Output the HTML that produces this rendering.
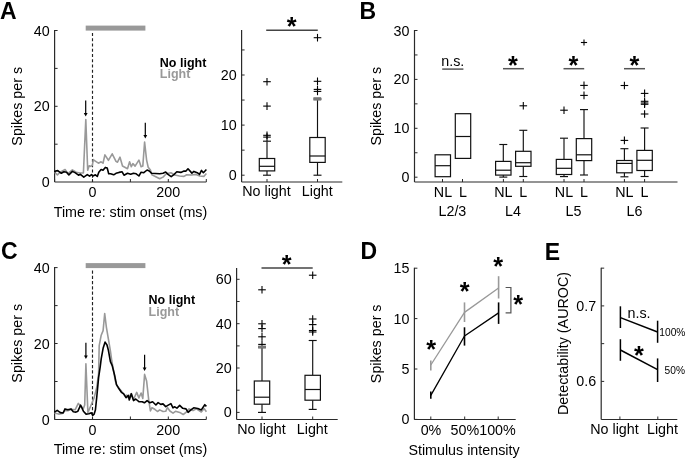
<!DOCTYPE html>
<html><head><meta charset="utf-8"><style>
html,body{margin:0;padding:0;background:#fff;}
svg{display:block;will-change:transform;font-family:"Liberation Sans", sans-serif;}
</style></head><body>
<svg width="685" height="458" viewBox="0 0 685 458">
<rect width="685" height="458" fill="#fff"/>
<text x="0" y="18.6" font-size="23" text-anchor="start" font-weight="bold" fill="#000">A</text>
<line x1="54.6" y1="29.9" x2="54.6" y2="182" stroke="#2a2a2a" stroke-width="1.2" />
<line x1="54.6" y1="30.5" x2="57.6" y2="30.5" stroke="#2a2a2a" stroke-width="1" />
<line x1="54.6" y1="68.4" x2="57.6" y2="68.4" stroke="#2a2a2a" stroke-width="1" />
<line x1="54.6" y1="106.3" x2="57.6" y2="106.3" stroke="#2a2a2a" stroke-width="1" />
<line x1="54.6" y1="144.2" x2="57.6" y2="144.2" stroke="#2a2a2a" stroke-width="1" />
<text x="49.6" y="35.5" font-size="14.3" text-anchor="end" font-weight="normal" fill="#000">40</text>
<text x="49.6" y="111.3" font-size="14.3" text-anchor="end" font-weight="normal" fill="#000">20</text>
<text x="49.6" y="187" font-size="14.3" text-anchor="end" font-weight="normal" fill="#000">0</text>
<line x1="54.6" y1="182" x2="206.3" y2="182" stroke="#2a2a2a" stroke-width="1.2" />
<line x1="54.6" y1="182" x2="54.6" y2="179" stroke="#2a2a2a" stroke-width="1" />
<line x1="92.5" y1="182" x2="92.5" y2="179" stroke="#2a2a2a" stroke-width="1" />
<line x1="130.4" y1="182" x2="130.4" y2="179" stroke="#2a2a2a" stroke-width="1" />
<line x1="168.3" y1="182" x2="168.3" y2="179" stroke="#2a2a2a" stroke-width="1" />
<line x1="206.3" y1="182" x2="206.3" y2="179" stroke="#2a2a2a" stroke-width="1" />
<text x="92.5" y="197" font-size="14.3" text-anchor="middle" font-weight="normal" fill="#000">0</text>
<text x="168.3" y="197" font-size="14.3" text-anchor="middle" font-weight="normal" fill="#000">200</text>
<text x="130.5" y="217" font-size="14.3" text-anchor="middle" font-weight="normal" fill="#000">Time re: stim onset (ms)</text>
<text x="22" y="106.3" font-size="14.3" text-anchor="middle" font-weight="normal" fill="#000" transform="rotate(-90 22 106.3)">Spikes per s</text>
<rect x="85.7" y="25.6" width="59.7" height="5" fill="#999"/>
<line x1="92.5" y1="32.9" x2="92.5" y2="182" stroke="#222" stroke-width="1.15" stroke-dasharray="3.1,2.15"/>
<text x="159.8" y="66.6" font-size="12.5" text-anchor="start" font-weight="bold" fill="#000">No light</text>
<text x="159.8" y="77.7" font-size="12.5" text-anchor="start" font-weight="bold" fill="#999">Light</text>
<polyline points="54.5,172.2 57.4,174.9 60.1,172.2 65.1,169.5 67.8,173.7 72.4,169.9 76.2,172.2 80,173 83.4,173 85.8,119.6 87.7,170.3 89.2,165.7 90.7,166.4 92.3,165.3 93.4,159.5 94.6,160.7 98.4,163.2 101.1,161.8 103,163.2 104.9,154.9 108.4,160.3 112.2,153.8 116,161.4 117.5,162.2 120,157.2 122.5,166 127.5,168.7 129.6,161.8 131.3,166.7 132.9,163.6 135.1,166.1 138.9,160.1 141.1,166.7 142.8,166.1 144.6,142.1 146.6,160.1 148.2,167.2 150.4,170 152,174.9 155.3,176.5 159.7,178.7 163,177.1 166.3,173.8 170.9,172.7 174.9,175 179.5,176 184,176.4 186.7,174.7 191.3,175 195.9,174.4 199.8,176 203.8,176.4 206.4,173.4" fill="none" stroke="#999" stroke-width="1.6" stroke-linejoin="round"/>
<polyline points="54.5,172.2 55.5,171 57.8,170.6 61.3,173.3 63.9,171.8 66.6,172.2 68.9,174.9 72.4,171.4 75.4,172.9 78.5,175.2 80.4,174.3 83.8,177.1 87.3,174.6 89.6,176.2 91.5,174.6 93,176 95.4,174.8 97.3,176.4 98.8,172.2 101.1,169.5 103,170.2 105.3,167.4 107.2,168 108.7,173.7 110.6,173.7 113.7,174.8 116,173.3 119,172.4 122.1,171.8 124,175.2 127.5,173.3 130.7,174.3 133.5,173.3 136.2,173.8 138.9,176 141.1,172.2 143.8,172.7 147.1,170 149.3,171 151.5,173.3 155.3,173.5 159.7,173.8 163,173.3 165.7,172 168,174.4 171.2,176.7 174.2,174.4 176.8,171.8 180.8,172.4 184,171.1 186,171.1 188,168.8 191.9,173.1 193.9,171.4 197.2,172.7 199.5,174.4 201.5,170.4 203.4,172.7 206.4,169.5" fill="none" stroke="#000" stroke-width="1.6" stroke-linejoin="round"/>
<line x1="85.7" y1="100.5" x2="85.7" y2="113.5" stroke="#000" stroke-width="1.2" />
<path d="M83.8,112.9 L87.60000000000001,112.9 L85.7,116.5 Z" fill="#000"/>
<line x1="145.3" y1="122.7" x2="145.3" y2="135.5" stroke="#000" stroke-width="1.2" />
<path d="M143.4,134.9 L147.20000000000002,134.9 L145.3,138.5 Z" fill="#000"/>
<line x1="241.6" y1="30" x2="241.6" y2="182" stroke="#2a2a2a" stroke-width="1.2" />
<line x1="241.6" y1="175.2" x2="244.6" y2="175.2" stroke="#2a2a2a" stroke-width="1" />
<line x1="241.6" y1="150.15" x2="244.6" y2="150.15" stroke="#2a2a2a" stroke-width="1" />
<line x1="241.6" y1="125.1" x2="244.6" y2="125.1" stroke="#2a2a2a" stroke-width="1" />
<line x1="241.6" y1="100.05" x2="244.6" y2="100.05" stroke="#2a2a2a" stroke-width="1" />
<line x1="241.6" y1="75" x2="244.6" y2="75" stroke="#2a2a2a" stroke-width="1" />
<line x1="241.6" y1="49.95" x2="244.6" y2="49.95" stroke="#2a2a2a" stroke-width="1" />
<text x="236.6" y="180.2" font-size="14.3" text-anchor="end" font-weight="normal" fill="#000">0</text>
<text x="236.6" y="130.1" font-size="14.3" text-anchor="end" font-weight="normal" fill="#000">10</text>
<text x="236.6" y="80" font-size="14.3" text-anchor="end" font-weight="normal" fill="#000">20</text>
<line x1="241.6" y1="182" x2="342.3" y2="182" stroke="#2a2a2a" stroke-width="1.2" />
<line x1="267" y1="182" x2="267" y2="179" stroke="#2a2a2a" stroke-width="1" />
<line x1="317.5" y1="182" x2="317.5" y2="179" stroke="#2a2a2a" stroke-width="1" />
<text x="266.5" y="196.4" font-size="14.3" text-anchor="middle" font-weight="normal" fill="#000">No light</text>
<text x="317.3" y="196.4" font-size="14.3" text-anchor="middle" font-weight="normal" fill="#000">Light</text>
<line x1="267" y1="158.5" x2="267" y2="141.2" stroke="#111" stroke-width="1.15" />
<line x1="267" y1="170.9" x2="267" y2="175.2" stroke="#111" stroke-width="1.15" />
<line x1="263.0" y1="141.2" x2="271.0" y2="141.2" stroke="#111" stroke-width="1.15" />
<line x1="263.0" y1="175.2" x2="271.0" y2="175.2" stroke="#111" stroke-width="1.15" />
<rect x="259.3" y="158.5" width="15.4" height="12.400000000000006" fill="#fff" stroke="#111" stroke-width="1.2"/>
<line x1="259.3" y1="166.3" x2="274.7" y2="166.3" stroke="#111" stroke-width="1.2" />
<line x1="263.2" y1="81.7" x2="270.8" y2="81.7" stroke="#000" stroke-width="1.1" />
<line x1="267" y1="77.9" x2="267" y2="85.5" stroke="#000" stroke-width="1.1" />
<line x1="263.2" y1="106.1" x2="270.8" y2="106.1" stroke="#000" stroke-width="1.1" />
<line x1="267" y1="102.3" x2="267" y2="109.89999999999999" stroke="#000" stroke-width="1.1" />
<line x1="263.2" y1="135.3" x2="270.8" y2="135.3" stroke="#000" stroke-width="1.1" />
<line x1="267" y1="131.5" x2="267" y2="139.10000000000002" stroke="#000" stroke-width="1.1" />
<line x1="263.2" y1="137.1" x2="270.8" y2="137.1" stroke="#000" stroke-width="1.1" />
<line x1="267" y1="133.29999999999998" x2="267" y2="140.9" stroke="#000" stroke-width="1.1" />
<line x1="317.5" y1="137.5" x2="317.5" y2="99" stroke="#111" stroke-width="1.15" />
<line x1="317.5" y1="162.4" x2="317.5" y2="175.2" stroke="#111" stroke-width="1.15" />
<line x1="313.5" y1="99" x2="321.5" y2="99" stroke="#111" stroke-width="1.15" />
<line x1="313.5" y1="175.2" x2="321.5" y2="175.2" stroke="#111" stroke-width="1.15" />
<rect x="309.8" y="137.5" width="15.4" height="24.900000000000006" fill="#fff" stroke="#111" stroke-width="1.2"/>
<line x1="309.8" y1="156" x2="325.2" y2="156" stroke="#111" stroke-width="1.2" />
<line x1="313.7" y1="37.7" x2="321.3" y2="37.7" stroke="#000" stroke-width="1.1" />
<line x1="317.5" y1="33.900000000000006" x2="317.5" y2="41.5" stroke="#000" stroke-width="1.1" />
<line x1="313.7" y1="81.3" x2="321.3" y2="81.3" stroke="#000" stroke-width="1.1" />
<line x1="317.5" y1="77.5" x2="317.5" y2="85.1" stroke="#000" stroke-width="1.1" />
<line x1="313.7" y1="89.4" x2="321.3" y2="89.4" stroke="#000" stroke-width="1.1" />
<line x1="317.5" y1="85.60000000000001" x2="317.5" y2="93.2" stroke="#000" stroke-width="1.1" />
<line x1="313.7" y1="91.4" x2="321.3" y2="91.4" stroke="#000" stroke-width="1.1" />
<line x1="317.5" y1="87.60000000000001" x2="317.5" y2="95.2" stroke="#000" stroke-width="1.1" />
<rect x="313.4" y="97.2" width="7.8" height="3.4" fill="#777"/>
<line x1="266.2" y1="30.3" x2="317.8" y2="30.3" stroke="#444" stroke-width="1.4" />
<text x="291.75" y="35.2" font-size="25.3" text-anchor="middle" font-weight="bold" fill="#000">*</text>
<text x="359.6" y="19.4" font-size="23" text-anchor="start" font-weight="bold" fill="#000">B</text>
<line x1="414.5" y1="30" x2="414.5" y2="182" stroke="#2a2a2a" stroke-width="1.2" />
<line x1="414.5" y1="177.2" x2="417.5" y2="177.2" stroke="#2a2a2a" stroke-width="1" />
<line x1="414.5" y1="152.75" x2="417.5" y2="152.75" stroke="#2a2a2a" stroke-width="1" />
<line x1="414.5" y1="128.3" x2="417.5" y2="128.3" stroke="#2a2a2a" stroke-width="1" />
<line x1="414.5" y1="103.85" x2="417.5" y2="103.85" stroke="#2a2a2a" stroke-width="1" />
<line x1="414.5" y1="79.4" x2="417.5" y2="79.4" stroke="#2a2a2a" stroke-width="1" />
<line x1="414.5" y1="54.95" x2="417.5" y2="54.95" stroke="#2a2a2a" stroke-width="1" />
<line x1="414.5" y1="30.5" x2="417.5" y2="30.5" stroke="#2a2a2a" stroke-width="1" />
<text x="409.5" y="182.2" font-size="14.3" text-anchor="end" font-weight="normal" fill="#000">0</text>
<text x="409.5" y="133.3" font-size="14.3" text-anchor="end" font-weight="normal" fill="#000">10</text>
<text x="409.5" y="84.4" font-size="14.3" text-anchor="end" font-weight="normal" fill="#000">20</text>
<text x="409.5" y="35.5" font-size="14.3" text-anchor="end" font-weight="normal" fill="#000">30</text>
<line x1="414.5" y1="182" x2="677.5" y2="182" stroke="#2a2a2a" stroke-width="1.2" />
<line x1="442.5" y1="182" x2="442.5" y2="179" stroke="#2a2a2a" stroke-width="1" />
<line x1="462.5" y1="182" x2="462.5" y2="179" stroke="#2a2a2a" stroke-width="1" />
<line x1="503.4" y1="182" x2="503.4" y2="179" stroke="#2a2a2a" stroke-width="1" />
<line x1="523.3" y1="182" x2="523.3" y2="179" stroke="#2a2a2a" stroke-width="1" />
<line x1="564" y1="182" x2="564" y2="179" stroke="#2a2a2a" stroke-width="1" />
<line x1="584" y1="182" x2="584" y2="179" stroke="#2a2a2a" stroke-width="1" />
<line x1="624.4" y1="182" x2="624.4" y2="179" stroke="#2a2a2a" stroke-width="1" />
<line x1="644.6" y1="182" x2="644.6" y2="179" stroke="#2a2a2a" stroke-width="1" />
<text x="381.3" y="106.2" font-size="14.3" text-anchor="middle" font-weight="normal" fill="#000" transform="rotate(-90 381.3 106.2)">Spikes per s</text>
<text x="443" y="196.5" font-size="14.3" text-anchor="middle" font-weight="normal" fill="#000">NL</text>
<text x="463" y="196.5" font-size="14.3" text-anchor="middle" font-weight="normal" fill="#000">L</text>
<text x="503.4" y="196.5" font-size="14.3" text-anchor="middle" font-weight="normal" fill="#000">NL</text>
<text x="523.3" y="196.5" font-size="14.3" text-anchor="middle" font-weight="normal" fill="#000">L</text>
<text x="564" y="196.5" font-size="14.3" text-anchor="middle" font-weight="normal" fill="#000">NL</text>
<text x="584" y="196.5" font-size="14.3" text-anchor="middle" font-weight="normal" fill="#000">L</text>
<text x="624.4" y="196.5" font-size="14.3" text-anchor="middle" font-weight="normal" fill="#000">NL</text>
<text x="644.6" y="196.5" font-size="14.3" text-anchor="middle" font-weight="normal" fill="#000">L</text>
<text x="452.4" y="215.5" font-size="14.3" text-anchor="middle" font-weight="normal" fill="#000">L2/3</text>
<text x="513" y="215.5" font-size="14.3" text-anchor="middle" font-weight="normal" fill="#000">L4</text>
<text x="573.5" y="215.5" font-size="14.3" text-anchor="middle" font-weight="normal" fill="#000">L5</text>
<text x="634.4" y="215.5" font-size="14.3" text-anchor="middle" font-weight="normal" fill="#000">L6</text>
<rect x="435.1" y="154.8" width="15.4" height="21.9" fill="#fff" stroke="#111" stroke-width="1.2"/>
<line x1="435.1" y1="165.7" x2="450.5" y2="165.7" stroke="#111" stroke-width="1.2" />
<rect x="455.3" y="113.7" width="15.4" height="44.7" fill="#fff" stroke="#111" stroke-width="1.2"/>
<line x1="455.3" y1="136.5" x2="470.7" y2="136.5" stroke="#111" stroke-width="1.2" />
<line x1="503.3" y1="161.4" x2="503.3" y2="144.5" stroke="#111" stroke-width="1.15" />
<line x1="503.3" y1="175.1" x2="503.3" y2="177.1" stroke="#111" stroke-width="1.15" />
<line x1="499.3" y1="144.5" x2="507.3" y2="144.5" stroke="#111" stroke-width="1.15" />
<line x1="499.3" y1="177.1" x2="507.3" y2="177.1" stroke="#111" stroke-width="1.15" />
<rect x="495.6" y="161.4" width="15.4" height="13.699999999999989" fill="#fff" stroke="#111" stroke-width="1.2"/>
<line x1="495.6" y1="170.2" x2="511.0" y2="170.2" stroke="#111" stroke-width="1.2" />
<line x1="523.3" y1="151.3" x2="523.3" y2="130.3" stroke="#111" stroke-width="1.15" />
<line x1="523.3" y1="166.3" x2="523.3" y2="176.5" stroke="#111" stroke-width="1.15" />
<line x1="519.3" y1="130.3" x2="527.3" y2="130.3" stroke="#111" stroke-width="1.15" />
<line x1="519.3" y1="176.5" x2="527.3" y2="176.5" stroke="#111" stroke-width="1.15" />
<rect x="515.5999999999999" y="151.3" width="15.4" height="15.0" fill="#fff" stroke="#111" stroke-width="1.2"/>
<line x1="515.5999999999999" y1="162.7" x2="531.0" y2="162.7" stroke="#111" stroke-width="1.2" />
<line x1="519.5" y1="105.8" x2="527.0999999999999" y2="105.8" stroke="#000" stroke-width="1.1" />
<line x1="523.3" y1="102.0" x2="523.3" y2="109.6" stroke="#000" stroke-width="1.1" />
<line x1="564" y1="159.4" x2="564" y2="138.2" stroke="#111" stroke-width="1.15" />
<line x1="564" y1="174.5" x2="564" y2="176.6" stroke="#111" stroke-width="1.15" />
<line x1="560.0" y1="138.2" x2="568.0" y2="138.2" stroke="#111" stroke-width="1.15" />
<line x1="560.0" y1="176.6" x2="568.0" y2="176.6" stroke="#111" stroke-width="1.15" />
<rect x="556.3" y="159.4" width="15.4" height="15.099999999999994" fill="#fff" stroke="#111" stroke-width="1.2"/>
<line x1="556.3" y1="168.3" x2="571.7" y2="168.3" stroke="#111" stroke-width="1.2" />
<line x1="560.2" y1="110.2" x2="567.8" y2="110.2" stroke="#000" stroke-width="1.1" />
<line x1="564" y1="106.4" x2="564" y2="114.0" stroke="#000" stroke-width="1.1" />
<line x1="584" y1="138.6" x2="584" y2="109.6" stroke="#111" stroke-width="1.15" />
<line x1="584" y1="160.6" x2="584" y2="175" stroke="#111" stroke-width="1.15" />
<line x1="580.0" y1="109.6" x2="588.0" y2="109.6" stroke="#111" stroke-width="1.15" />
<line x1="580.0" y1="175" x2="588.0" y2="175" stroke="#111" stroke-width="1.15" />
<rect x="576.3" y="138.6" width="15.4" height="22.0" fill="#fff" stroke="#111" stroke-width="1.2"/>
<line x1="576.3" y1="154.8" x2="591.7" y2="154.8" stroke="#111" stroke-width="1.2" />
<line x1="580.2" y1="85.4" x2="587.8" y2="85.4" stroke="#000" stroke-width="1.1" />
<line x1="584" y1="81.60000000000001" x2="584" y2="89.2" stroke="#000" stroke-width="1.1" />
<line x1="580.2" y1="95.4" x2="587.8" y2="95.4" stroke="#000" stroke-width="1.1" />
<line x1="584" y1="91.60000000000001" x2="584" y2="99.2" stroke="#000" stroke-width="1.1" />
<line x1="580.9" y1="42.5" x2="587.1" y2="42.5" stroke="#000" stroke-width="1.1" />
<line x1="584" y1="39.4" x2="584" y2="45.6" stroke="#000" stroke-width="1.1" />
<line x1="624.4" y1="160.5" x2="624.4" y2="148.7" stroke="#111" stroke-width="1.15" />
<line x1="624.4" y1="172.8" x2="624.4" y2="176.8" stroke="#111" stroke-width="1.15" />
<line x1="620.4" y1="148.7" x2="628.4" y2="148.7" stroke="#111" stroke-width="1.15" />
<line x1="620.4" y1="176.8" x2="628.4" y2="176.8" stroke="#111" stroke-width="1.15" />
<rect x="616.6999999999999" y="160.5" width="15.4" height="12.300000000000011" fill="#fff" stroke="#111" stroke-width="1.2"/>
<line x1="616.6999999999999" y1="163.4" x2="632.1" y2="163.4" stroke="#111" stroke-width="1.2" />
<line x1="620.6" y1="140.4" x2="628.1999999999999" y2="140.4" stroke="#000" stroke-width="1.1" />
<line x1="624.4" y1="136.6" x2="624.4" y2="144.20000000000002" stroke="#000" stroke-width="1.1" />
<line x1="620.6" y1="85.5" x2="628.1999999999999" y2="85.5" stroke="#000" stroke-width="1.1" />
<line x1="624.4" y1="81.7" x2="624.4" y2="89.3" stroke="#000" stroke-width="1.1" />
<line x1="644.6" y1="150.4" x2="644.6" y2="128" stroke="#111" stroke-width="1.15" />
<line x1="644.6" y1="170.5" x2="644.6" y2="176.5" stroke="#111" stroke-width="1.15" />
<line x1="640.6" y1="128" x2="648.6" y2="128" stroke="#111" stroke-width="1.15" />
<line x1="640.6" y1="176.5" x2="648.6" y2="176.5" stroke="#111" stroke-width="1.15" />
<rect x="636.9" y="150.4" width="15.4" height="20.099999999999994" fill="#fff" stroke="#111" stroke-width="1.2"/>
<line x1="636.9" y1="160.3" x2="652.3000000000001" y2="160.3" stroke="#111" stroke-width="1.2" />
<line x1="640.8000000000001" y1="114" x2="648.4" y2="114" stroke="#000" stroke-width="1.1" />
<line x1="644.6" y1="110.2" x2="644.6" y2="117.8" stroke="#000" stroke-width="1.1" />
<line x1="640.8000000000001" y1="93.4" x2="648.4" y2="93.4" stroke="#000" stroke-width="1.1" />
<line x1="644.6" y1="89.60000000000001" x2="644.6" y2="97.2" stroke="#000" stroke-width="1.1" />
<line x1="640.8000000000001" y1="101.3" x2="648.4" y2="101.3" stroke="#000" stroke-width="1.1" />
<line x1="644.6" y1="97.5" x2="644.6" y2="105.1" stroke="#000" stroke-width="1.1" />
<line x1="640.8000000000001" y1="103" x2="648.4" y2="103" stroke="#000" stroke-width="1.1" />
<line x1="644.6" y1="99.2" x2="644.6" y2="106.8" stroke="#000" stroke-width="1.1" />
<line x1="640.8000000000001" y1="104.3" x2="648.4" y2="104.3" stroke="#000" stroke-width="1.1" />
<line x1="644.6" y1="100.5" x2="644.6" y2="108.1" stroke="#000" stroke-width="1.1" />
<line x1="442.2" y1="69.1" x2="463.4" y2="69.1" stroke="#555" stroke-width="1.5" />
<text x="452.8" y="66.2" font-size="14.3" text-anchor="middle" font-weight="normal" fill="#000">n.s.</text>
<line x1="503" y1="68.7" x2="523.9" y2="68.7" stroke="#555" stroke-width="1.5" />
<text x="512.85" y="73.60000000000001" font-size="25.3" text-anchor="middle" font-weight="bold" fill="#000">*</text>
<line x1="563.5" y1="68.7" x2="584.2" y2="68.7" stroke="#555" stroke-width="1.5" />
<text x="573.5500000000001" y="73.60000000000001" font-size="25.3" text-anchor="middle" font-weight="bold" fill="#000">*</text>
<line x1="624" y1="68.7" x2="645" y2="68.7" stroke="#555" stroke-width="1.5" />
<text x="634.35" y="73.60000000000001" font-size="25.3" text-anchor="middle" font-weight="bold" fill="#000">*</text>
<text x="1" y="259.2" font-size="23" text-anchor="start" font-weight="bold" fill="#000">C</text>
<line x1="54.6" y1="267" x2="54.6" y2="419.5" stroke="#2a2a2a" stroke-width="1.2" />
<line x1="54.6" y1="267.6" x2="57.6" y2="267.6" stroke="#2a2a2a" stroke-width="1" />
<line x1="54.6" y1="305.6" x2="57.6" y2="305.6" stroke="#2a2a2a" stroke-width="1" />
<line x1="54.6" y1="343.5" x2="57.6" y2="343.5" stroke="#2a2a2a" stroke-width="1" />
<line x1="54.6" y1="381.5" x2="57.6" y2="381.5" stroke="#2a2a2a" stroke-width="1" />
<text x="49.6" y="272.6" font-size="14.3" text-anchor="end" font-weight="normal" fill="#000">40</text>
<text x="49.6" y="348.5" font-size="14.3" text-anchor="end" font-weight="normal" fill="#000">20</text>
<text x="49.6" y="424.5" font-size="14.3" text-anchor="end" font-weight="normal" fill="#000">0</text>
<line x1="54.6" y1="419.5" x2="206.3" y2="419.5" stroke="#2a2a2a" stroke-width="1.2" />
<line x1="54.6" y1="419.5" x2="54.6" y2="416.5" stroke="#2a2a2a" stroke-width="1" />
<line x1="92.5" y1="419.5" x2="92.5" y2="416.5" stroke="#2a2a2a" stroke-width="1" />
<line x1="130.4" y1="419.5" x2="130.4" y2="416.5" stroke="#2a2a2a" stroke-width="1" />
<line x1="168.3" y1="419.5" x2="168.3" y2="416.5" stroke="#2a2a2a" stroke-width="1" />
<line x1="206.3" y1="419.5" x2="206.3" y2="416.5" stroke="#2a2a2a" stroke-width="1" />
<text x="92.5" y="434.5" font-size="14.3" text-anchor="middle" font-weight="normal" fill="#000">0</text>
<text x="168.3" y="434.5" font-size="14.3" text-anchor="middle" font-weight="normal" fill="#000">200</text>
<text x="130.5" y="454" font-size="14.3" text-anchor="middle" font-weight="normal" fill="#000">Time re: stim onset (ms)</text>
<text x="22" y="343.3" font-size="14.3" text-anchor="middle" font-weight="normal" fill="#000" transform="rotate(-90 22 343.3)">Spikes per s</text>
<rect x="85.7" y="263.1" width="59.7" height="5" fill="#999"/>
<line x1="92.5" y1="270.6" x2="92.5" y2="419.5" stroke="#222" stroke-width="1.15" stroke-dasharray="3.1,2.15"/>
<text x="148.6" y="303.9" font-size="12.5" text-anchor="start" font-weight="bold" fill="#000">No light</text>
<text x="148.6" y="316.2" font-size="12.5" text-anchor="start" font-weight="bold" fill="#999">Light</text>
<polyline points="54.5,413 58.6,414.1 62.3,413.5 64.6,410.7 67.8,410.7 71,409.4 75.1,409.8 78.3,403.4 80.6,406.1 83.4,408.4 84.7,405 85.9,363.8 87.9,412.6 90.7,406 94.1,397.9 96.8,387.1 98.6,373.5 99.2,345.7 101.2,335.2 103.1,330.6 104.7,313.5 106.4,327.3 108.4,339.1 110.4,350.9 111.8,361 113.6,371 115.3,380.9 116.8,385.4 119.9,389.3 122.9,393 125.2,396 126.6,395.2 128.6,398 131.3,393.5 133.5,399.5 136.7,392.4 138.9,397.9 141.1,393 142.8,398.4 144.6,374.4 146.6,380.9 148.8,400.6 150.4,411 152,407.7 154.8,409.3 157.5,411.5 159.7,409.9 163,411.5 165.7,411.3 167.4,407.5 169.9,411 173,413.1 175.5,411.3 179.7,412.4 183.2,414.5 186,412.4 189.1,408.9 193,410.6 196.4,408.9 201.3,412 204.1,408.5 206.4,411.7" fill="none" stroke="#999" stroke-width="1.6" stroke-linejoin="round"/>
<polyline points="54.5,412.1 57.2,410.3 60.4,412.6 63.2,413 65,408.9 67.8,409.8 71,408.9 73.3,411.7 76,412.1 77.9,411.2 80.6,405.2 83.4,411.2 86.1,414.1 88.9,413.8 91.4,412.8 92.7,415.5 94.1,414.2 95.4,410.1 96.8,396.6 98.6,377.6 100.2,366.8 101.2,358.8 103.1,348.3 105.1,342.1 107,345 108.4,350.3 110.4,361.7 112.2,365.6 114.5,374.7 116.5,384.7 118.3,387.7 121.4,392.3 123.7,393.8 126,397.7 128.3,395.4 129.3,400 131.3,393.8 133.5,400.6 135.7,399 138.9,401.7 142.2,401.7 144.4,402.8 147.1,400.6 149.9,402.8 152.6,401.7 155.9,405 158.1,402.6 160.8,404.4 163,403.9 165.7,406.6 167.8,405.4 170.9,403.6 173,407.8 174.8,406.8 176.9,408.2 179.7,405.4 182.8,408.3 186,408.9 188.1,412.4 190.9,409.9 193.7,407.8 197.8,408.5 201.3,409.9 204.8,404.7 206.4,406.4" fill="none" stroke="#000" stroke-width="1.6" stroke-linejoin="round"/>
<line x1="85.9" y1="342.8" x2="85.9" y2="356" stroke="#000" stroke-width="1.2" />
<path d="M84.0,355.4 L87.80000000000001,355.4 L85.9,359 Z" fill="#000"/>
<line x1="144.6" y1="354.7" x2="144.6" y2="368" stroke="#000" stroke-width="1.2" />
<path d="M142.7,367.4 L146.5,367.4 L144.6,371 Z" fill="#000"/>
<line x1="236.6" y1="268" x2="236.6" y2="419.5" stroke="#2a2a2a" stroke-width="1.2" />
<line x1="236.6" y1="412.4" x2="239.6" y2="412.4" stroke="#2a2a2a" stroke-width="1" />
<line x1="236.6" y1="390.2" x2="239.6" y2="390.2" stroke="#2a2a2a" stroke-width="1" />
<line x1="236.6" y1="368" x2="239.6" y2="368" stroke="#2a2a2a" stroke-width="1" />
<line x1="236.6" y1="345.9" x2="239.6" y2="345.9" stroke="#2a2a2a" stroke-width="1" />
<line x1="236.6" y1="323.7" x2="239.6" y2="323.7" stroke="#2a2a2a" stroke-width="1" />
<line x1="236.6" y1="301.5" x2="239.6" y2="301.5" stroke="#2a2a2a" stroke-width="1" />
<line x1="236.6" y1="279.3" x2="239.6" y2="279.3" stroke="#2a2a2a" stroke-width="1" />
<text x="231.6" y="417.4" font-size="14.3" text-anchor="end" font-weight="normal" fill="#000">0</text>
<text x="231.6" y="373" font-size="14.3" text-anchor="end" font-weight="normal" fill="#000">20</text>
<text x="231.6" y="328.7" font-size="14.3" text-anchor="end" font-weight="normal" fill="#000">40</text>
<text x="231.6" y="284.3" font-size="14.3" text-anchor="end" font-weight="normal" fill="#000">60</text>
<line x1="236.6" y1="419.5" x2="337.7" y2="419.5" stroke="#2a2a2a" stroke-width="1.2" />
<line x1="262" y1="419.5" x2="262" y2="416.5" stroke="#2a2a2a" stroke-width="1" />
<line x1="312.7" y1="419.5" x2="312.7" y2="416.5" stroke="#2a2a2a" stroke-width="1" />
<text x="261.5" y="434.3" font-size="14.3" text-anchor="middle" font-weight="normal" fill="#000">No light</text>
<text x="312.3" y="434.3" font-size="14.3" text-anchor="middle" font-weight="normal" fill="#000">Light</text>
<line x1="262" y1="381" x2="262" y2="347" stroke="#111" stroke-width="1.15" />
<line x1="262" y1="404.2" x2="262" y2="412.4" stroke="#111" stroke-width="1.15" />
<line x1="258.0" y1="347" x2="266.0" y2="347" stroke="#111" stroke-width="1.15" />
<line x1="258.0" y1="412.4" x2="266.0" y2="412.4" stroke="#111" stroke-width="1.15" />
<rect x="254.3" y="381" width="15.4" height="23.19999999999999" fill="#fff" stroke="#111" stroke-width="1.2"/>
<line x1="254.3" y1="397.2" x2="269.7" y2="397.2" stroke="#111" stroke-width="1.2" />
<line x1="258.2" y1="289.8" x2="265.8" y2="289.8" stroke="#000" stroke-width="1.1" />
<line x1="262" y1="286.0" x2="262" y2="293.6" stroke="#000" stroke-width="1.1" />
<line x1="258.2" y1="323.8" x2="265.8" y2="323.8" stroke="#000" stroke-width="1.1" />
<line x1="262" y1="320.0" x2="262" y2="327.6" stroke="#000" stroke-width="1.1" />
<line x1="258.2" y1="328.6" x2="265.8" y2="328.6" stroke="#000" stroke-width="1.1" />
<line x1="262" y1="324.8" x2="262" y2="332.40000000000003" stroke="#000" stroke-width="1.1" />
<line x1="258.2" y1="336.8" x2="265.8" y2="336.8" stroke="#000" stroke-width="1.1" />
<line x1="262" y1="333.0" x2="262" y2="340.6" stroke="#000" stroke-width="1.1" />
<line x1="258.2" y1="344.4" x2="265.8" y2="344.4" stroke="#000" stroke-width="1.1" />
<line x1="262" y1="340.59999999999997" x2="262" y2="348.2" stroke="#000" stroke-width="1.1" />
<rect x="258.1" y="345.6" width="7.8" height="3" fill="#777"/>
<line x1="312.7" y1="375.3" x2="312.7" y2="340.5" stroke="#111" stroke-width="1.15" />
<line x1="312.7" y1="400.2" x2="312.7" y2="409.4" stroke="#111" stroke-width="1.15" />
<line x1="308.7" y1="340.5" x2="316.7" y2="340.5" stroke="#111" stroke-width="1.15" />
<line x1="308.7" y1="409.4" x2="316.7" y2="409.4" stroke="#111" stroke-width="1.15" />
<rect x="305.0" y="375.3" width="15.4" height="24.899999999999977" fill="#fff" stroke="#111" stroke-width="1.2"/>
<line x1="305.0" y1="389.5" x2="320.4" y2="389.5" stroke="#111" stroke-width="1.2" />
<line x1="308.9" y1="275.2" x2="316.5" y2="275.2" stroke="#000" stroke-width="1.1" />
<line x1="312.7" y1="271.4" x2="312.7" y2="279.0" stroke="#000" stroke-width="1.1" />
<line x1="308.9" y1="319" x2="316.5" y2="319" stroke="#000" stroke-width="1.1" />
<line x1="312.7" y1="315.2" x2="312.7" y2="322.8" stroke="#000" stroke-width="1.1" />
<line x1="308.9" y1="324.6" x2="316.5" y2="324.6" stroke="#000" stroke-width="1.1" />
<line x1="312.7" y1="320.8" x2="312.7" y2="328.40000000000003" stroke="#000" stroke-width="1.1" />
<line x1="308.9" y1="330.5" x2="316.5" y2="330.5" stroke="#000" stroke-width="1.1" />
<line x1="312.7" y1="326.7" x2="312.7" y2="334.3" stroke="#000" stroke-width="1.1" />
<line x1="308.9" y1="332" x2="316.5" y2="332" stroke="#000" stroke-width="1.1" />
<line x1="312.7" y1="328.2" x2="312.7" y2="335.8" stroke="#000" stroke-width="1.1" />
<line x1="261.5" y1="268" x2="312.7" y2="268" stroke="#444" stroke-width="1.4" />
<text x="286.75" y="272.9" font-size="25.3" text-anchor="middle" font-weight="bold" fill="#000">*</text>
<text x="360.6" y="259" font-size="23" text-anchor="start" font-weight="bold" fill="#000">D</text>
<line x1="414.4" y1="267.7" x2="414.4" y2="419.5" stroke="#2a2a2a" stroke-width="1.2" />
<line x1="414.4" y1="268.2" x2="417.4" y2="268.2" stroke="#2a2a2a" stroke-width="1" />
<line x1="414.4" y1="318.6" x2="417.4" y2="318.6" stroke="#2a2a2a" stroke-width="1" />
<line x1="414.4" y1="369" x2="417.4" y2="369" stroke="#2a2a2a" stroke-width="1" />
<line x1="414.4" y1="419.4" x2="417.4" y2="419.4" stroke="#2a2a2a" stroke-width="1" />
<text x="409.4" y="273.2" font-size="14.3" text-anchor="end" font-weight="normal" fill="#000">15</text>
<text x="409.4" y="323.6" font-size="14.3" text-anchor="end" font-weight="normal" fill="#000">10</text>
<text x="409.4" y="374" font-size="14.3" text-anchor="end" font-weight="normal" fill="#000">5</text>
<text x="409.4" y="424.4" font-size="14.3" text-anchor="end" font-weight="normal" fill="#000">0</text>
<line x1="414.4" y1="419.5" x2="515.7" y2="419.5" stroke="#2a2a2a" stroke-width="1.2" />
<line x1="430.8" y1="419.5" x2="430.8" y2="416.5" stroke="#2a2a2a" stroke-width="1" />
<line x1="464.7" y1="419.5" x2="464.7" y2="416.5" stroke="#2a2a2a" stroke-width="1" />
<line x1="498.2" y1="419.5" x2="498.2" y2="416.5" stroke="#2a2a2a" stroke-width="1" />
<text x="431" y="434.8" font-size="14.3" text-anchor="middle" font-weight="normal" fill="#000">0%</text>
<text x="464.9" y="434.8" font-size="14.3" text-anchor="middle" font-weight="normal" fill="#000">50%</text>
<text x="497.5" y="434.8" font-size="14.3" text-anchor="middle" font-weight="normal" fill="#000">100%</text>
<text x="464" y="454.6" font-size="14.3" text-anchor="middle" font-weight="normal" fill="#000">Stimulus intensity</text>
<text x="381.3" y="343.8" font-size="14.3" text-anchor="middle" font-weight="normal" fill="#000" transform="rotate(-90 381.3 343.8)">Spikes per s</text>
<polyline points="430.8,365 464.5,312.4 498.6,288" fill="none" stroke="#999" stroke-width="1.3" stroke-linejoin="round"/>
<polyline points="430.8,395.4 464.5,336 498.6,312.9" fill="none" stroke="#000" stroke-width="1.3" stroke-linejoin="round"/>
<line x1="430.8" y1="360.6" x2="430.8" y2="370.4" stroke="#999" stroke-width="1.6" />
<line x1="464.5" y1="302.4" x2="464.5" y2="322" stroke="#999" stroke-width="1.6" />
<line x1="498.6" y1="276.2" x2="498.6" y2="298.5" stroke="#999" stroke-width="1.6" />
<line x1="430.8" y1="391.5" x2="430.8" y2="398.7" stroke="#000" stroke-width="1.6" />
<line x1="464.5" y1="327.3" x2="464.5" y2="345.6" stroke="#000" stroke-width="1.6" />
<line x1="498.6" y1="302.4" x2="498.6" y2="323.9" stroke="#000" stroke-width="1.6" />
<polyline points="505.6,287.5 510.9,287.5 510.9,312.9 505.6,312.9" fill="none" stroke="#555" stroke-width="1.2"/>
<text x="518.15" y="313.29999999999995" font-size="25.3" text-anchor="middle" font-weight="bold" fill="#000">*</text>
<text x="498.25" y="274.79999999999995" font-size="25.3" text-anchor="middle" font-weight="bold" fill="#000">*</text>
<text x="464.75" y="300.29999999999995" font-size="25.3" text-anchor="middle" font-weight="bold" fill="#000">*</text>
<text x="431.15000000000003" y="357.79999999999995" font-size="25.3" text-anchor="middle" font-weight="bold" fill="#000">*</text>
<text x="544.8" y="259.6" font-size="23" text-anchor="start" font-weight="bold" fill="#000">E</text>
<line x1="601.2" y1="267.7" x2="601.2" y2="419.5" stroke="#2a2a2a" stroke-width="1.2" />
<line x1="601.2" y1="268.15" x2="604.2" y2="268.15" stroke="#2a2a2a" stroke-width="1" />
<line x1="601.2" y1="305.9" x2="604.2" y2="305.9" stroke="#2a2a2a" stroke-width="1" />
<line x1="601.2" y1="343.65" x2="604.2" y2="343.65" stroke="#2a2a2a" stroke-width="1" />
<line x1="601.2" y1="381.4" x2="604.2" y2="381.4" stroke="#2a2a2a" stroke-width="1" />
<text x="596.2" y="310.9" font-size="14.3" text-anchor="end" font-weight="normal" fill="#000">0.7</text>
<text x="596.2" y="386.4" font-size="14.3" text-anchor="end" font-weight="normal" fill="#000">0.6</text>
<line x1="601.2" y1="419.5" x2="677.3" y2="419.5" stroke="#2a2a2a" stroke-width="1.2" />
<line x1="619.9" y1="419.5" x2="619.9" y2="416.5" stroke="#2a2a2a" stroke-width="1" />
<line x1="657.8" y1="419.5" x2="657.8" y2="416.5" stroke="#2a2a2a" stroke-width="1" />
<text x="614.5" y="434" font-size="14.3" text-anchor="middle" font-weight="normal" fill="#000">No light</text>
<text x="662.5" y="434" font-size="14.3" text-anchor="middle" font-weight="normal" fill="#000">Light</text>
<text x="567.5" y="343.5" font-size="14.3" text-anchor="middle" font-weight="normal" fill="#000" transform="rotate(-90 567.5 343.5)">Detectability (AUROC)</text>
<line x1="620.4" y1="317.6" x2="657.6" y2="332" stroke="#000" stroke-width="1.5" />
<line x1="620.4" y1="306.3" x2="620.4" y2="328" stroke="#000" stroke-width="1.5" />
<line x1="657.6" y1="320.7" x2="657.6" y2="342.8" stroke="#000" stroke-width="1.5" />
<line x1="620.4" y1="350" x2="657.6" y2="369.7" stroke="#000" stroke-width="1.5" />
<line x1="620.4" y1="339.2" x2="620.4" y2="360.8" stroke="#000" stroke-width="1.5" />
<line x1="657.6" y1="358.4" x2="657.6" y2="382" stroke="#000" stroke-width="1.5" />
<text x="639" y="318.1" font-size="14.3" text-anchor="middle" font-weight="normal" fill="#000">n.s.</text>
<text x="672.4" y="335.9" font-size="10.2" text-anchor="middle" font-weight="normal" fill="#000">100%</text>
<text x="674.8" y="374" font-size="10.2" text-anchor="middle" font-weight="normal" fill="#000">50%</text>
<text x="638.85" y="363.79999999999995" font-size="25.3" text-anchor="middle" font-weight="bold" fill="#000">*</text>
</svg>
</body></html>
